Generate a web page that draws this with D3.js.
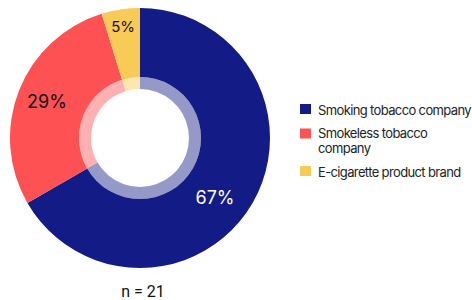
<!DOCTYPE html>
<html>
<head>
<meta charset="utf-8">
<script src="https://cdn.jsdelivr.net/npm/d3@7"></script>
<style>
  body { margin: 0; background: #fff; }
  svg { display: block; font-family: Inter, "Noto Sans", sans-serif; }
</style>
</head>
<body>
<svg id="chart"></svg>
<script>
// respondents by brand type (n = 21)
const categories = ["Smoking tobacco company", "Smokeless tobacco company", "E-cigarette product brand"];
const counts = [14, 6, 1];
const labels = ["67%", "29%", "5%"];
const colors = ["#131c86", "#fe5154", "#f8ca56"];
const labelColors = ["#ffffff", "#111111", "#111111"];
const total = 21;

let width = 472;
let height = 300;
let cx = 140, cy = 138;
let outerR = 130, innerR = 61, ringR = 49;

let svg = d3.select('#chart')
  .attr('width', width)
  .attr('height', height);

let pie = d3.pie().sort(null).value(d => d);
let arcs = pie(counts);

let arc = d3.arc().innerRadius(innerR).outerRadius(outerR);
let ring = d3.arc().innerRadius(ringR).outerRadius(innerR);

let g = svg.append('g').attr('transform', `translate(${cx},${cy})`);

g.selectAll('path.slice')
  .data(arcs)
  .enter()
  .append('path')
  .attr('class', 'slice')
  .attr('d', arc)
  .attr('fill', (d, i) => colors[i]);

// pale inner ring
g.selectAll('path.ring')
  .data(arcs)
  .enter()
  .append('path')
  .attr('class', 'ring')
  .attr('d', ring)
  .attr('fill', (d, i) => colors[i])
  .attr('opacity', 0.45);

// slice labels
function labelPos(d, i) {
  let a = (d.startAngle + d.endAngle) / 2;
  let r = 100;
  if (i === 0) { a += 0.15; r = 96; }
  if (i === 2) r = 113;
  return [Math.sin(a) * r, -Math.cos(a) * r];
}

g.selectAll('text.val')
  .data(arcs)
  .enter()
  .append('text')
  .attr('class', 'val')
  .attr('x', (d, i) => labelPos(d, i)[0])
  .attr('y', (d, i) => labelPos(d, i)[1])
  .attr('dy', '0.36em')
  .attr('text-anchor', 'middle')
  .attr('font-size', (d, i) => i === 2 ? 15 : 18)
  .attr('fill', (d, i) => labelColors[i])
  .text((d, i) => labels[i]);

// legend
let legend = svg.append('g').attr('transform', 'translate(300,104)');
let rowY = [0, 24.5, 62];
let items = legend.selectAll('g')
  .data(categories)
  .enter()
  .append('g')
  .attr('transform', (d, i) => `translate(0,${rowY[i]})`);

items.append('rect')
  .attr('width', 11)
  .attr('height', 10)
  .attr('fill', (d, i) => colors[i]);

// one text element per line (the second entry wraps)
items.each(function(d) {
  let lines = d === "Smokeless tobacco company" ? ["Smokeless tobacco", "company"] : [d];
  d3.select(this).selectAll('text')
    .data(lines)
    .enter()
    .append('text')
    .attr('class', 'leg')
    .attr('x', 18)
    .attr('y', (l, k) => (lines.length > 1 ? 9.5 : 10.5) + k * 15)
    .attr('font-size', 13)
    .attr('fill', '#222')
    .text(l => l);
});

// tighten letter spacing so the first entry is ~153px wide like the original
let legendText = svg.selectAll('text.leg');
let w0 = legendText.node().getComputedTextLength();
let ls = Math.min(0, (153 - w0) / categories[0].length);
legendText.attr('letter-spacing', ls);

svg.append('text')
  .attr('x', 143)
  .attr('y', 297)
  .attr('text-anchor', 'middle')
  .attr('font-family', 'Roboto, sans-serif')
  .attr('font-size', 16)
  .attr('fill', '#111')
  .text(`n = ${total}`);
</script>
</body>
</html>
